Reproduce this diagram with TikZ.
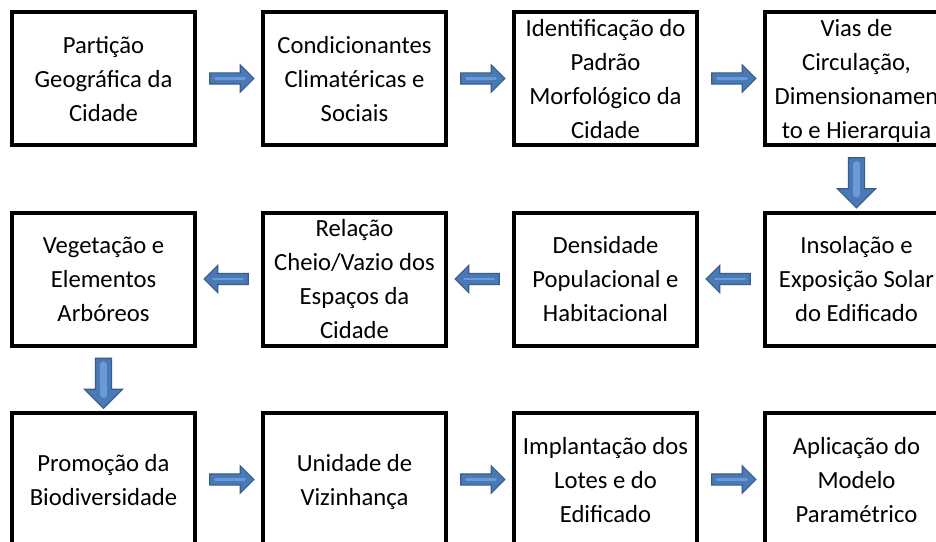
\documentclass[tikz,border=0pt]{standalone}
\usepackage{fontspec}
\setmainfont{Carlito}
\usetikzlibrary{shapes.arrows,calc}
\colorlet{background}{white}
\colorlet{penColor}{black}
\definecolor{arrowFill}{HTML}{4A7AB5}
\definecolor{arrowLine}{HTML}{385D8A}
\definecolor{arrowLight}{HTML}{6A9AD8}
\tikzset{
  etapa/.style={draw=penColor, line width=3pt, minimum width=137.25pt, minimum height=99.75pt,
    inner sep=0pt, align=center, text depth=-8pt, font=\fontsize{18.5pt}{25.5pt}\selectfont},
  seta/.style={single arrow, fill=arrowFill, draw=arrowLine, line width=.8pt, inner sep=3.75pt,
    minimum height=33pt, single arrow head extend=6pt},
  setabaixo/.style={seta, shape border rotate=270, inner sep=5.625pt, minimum height=37.5pt,
    single arrow head extend=8.25pt},
  setaesq/.style={seta, shape border rotate=180},
  brilho/.style={arrowLight, line cap=round},
}

\begin{document}
\begin{tikzpicture}[x=.75pt,y=.75pt]
		\useasboundingbox[fill=background] (0,0) rectangle (936,-542);
		% linha de cima
		\node[etapa] (particao) at (103.5,-78.5) {Partição\\Geográfica da\\Cidade};
		\node[etapa] (condicionantes) at (354.5,-78.5) {Condicionantes\\Climatéricas e\\Sociais};
		\node[etapa] (padrao) at (605.5,-78.5) {Identificação do\\Padrão\\Morfológico da\\Cidade};
		\node[etapa] (vias) at (856.5,-78.5) {Vias de\\Circulação,\\Dimensionamen\\to e Hierarquia};
		% linha do meio
		\node[etapa] (insolacao) at (856.5,-279) {Insolação e\\Exposição Solar\\do Edificado};
		\node[etapa] (densidade) at (605.5,-279) {Densidade\\Populacional e\\Habitacional};
		\node[etapa] (relacao) at (354.5,-279) {Relação\\Cheio/Vazio dos\\Espaços da\\Cidade};
		\node[etapa] (vegetacao) at (103.5,-279) {Vegetação e\\Elementos\\Arbóreos};
		% linha de baixo
		\node[etapa] (biodiversidade) at (103.5,-479.5) {Promoção da\\Biodiversidade};
		\node[etapa] (vizinhanca) at (354.5,-479.5) {Unidade de\\Vizinhança};
		\node[etapa] (implantacao) at (605.5,-479.5) {Implantação dos\\Lotes e do\\Edificado};
		\node[etapa] (modelo) at (856.5,-479.5) {Aplicação do\\Modelo\\Paramétrico};
		
		% setas
		\path (particao) -- node[seta] (s1) {} (condicionantes);
		\path (condicionantes) -- node[seta] (s2) {} (padrao);
		\path (padrao) -- node[seta] (s3) {} (vias);
		\path (vias) -- node[setabaixo] (s4) {} (insolacao);
		\path (insolacao) -- node[setaesq] (s5) {} (densidade);
		\path (densidade) -- node[setaesq] (s6) {} (relacao);
		\path (relacao) -- node[setaesq] (s7) {} (vegetacao);
		\path (vegetacao) -- node[setabaixo] (s8) {} (biodiversidade);
		\path (biodiversidade) -- node[seta] (s9) {} (vizinhanca);
		\path (vizinhanca) -- node[seta] (s10) {} (implantacao);
		\path (implantacao) -- node[seta] (s11) {} (modelo);
		
		\foreach \s in {s1,s2,s3,s5,s6,s7,s9,s10,s11}
		\draw[brilho, line width=2pt] ($(\s.tail)!.14!(\s.tip)$) -- ($(\s.tail)!.78!(\s.tip)$);
		\foreach \s in {s4,s8}
		\draw[brilho, line width=5pt] ($(\s.tail)!.14!(\s.tip)$) -- ($(\s.tail)!.72!(\s.tip)$);
\end{tikzpicture}
\end{document}
